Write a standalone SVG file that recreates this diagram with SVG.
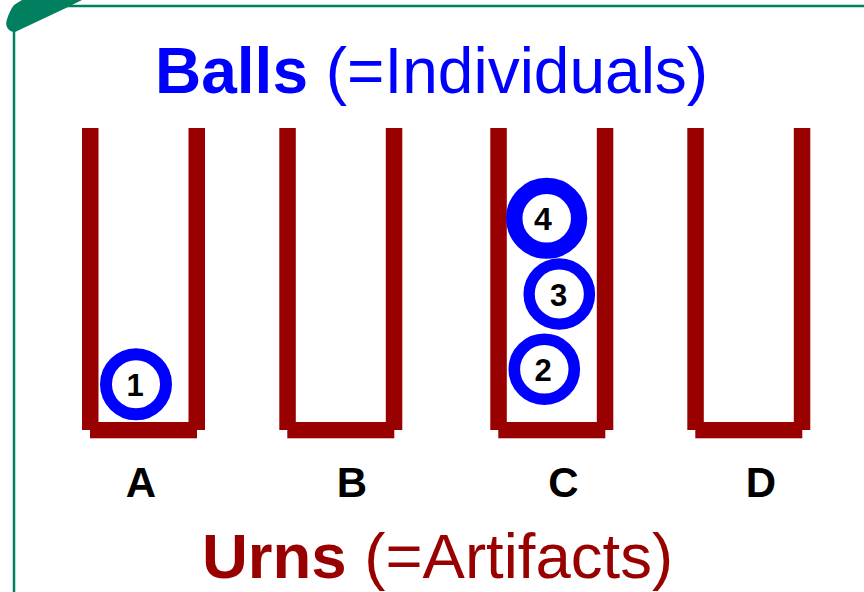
<svg xmlns="http://www.w3.org/2000/svg" xmlns:xlink="http://www.w3.org/1999/xlink" width="864" height="592" viewBox="0 0 864 592">
  <style>
    .title { font-family: "Liberation Sans", Arial, sans-serif; }
    .b { font-weight: bold; }
    .blue { fill: #0000ff; }
    .red { fill: #990000; }
    .urnshape { fill: #990000; }
    .ring { fill: #ffffff; stroke: #0000ff; }
    .num { font-family: "Liberation Sans", Arial, sans-serif; font-weight: bold; fill: #000000; text-anchor: middle; }
    .lbl { font-family: "Liberation Sans", Arial, sans-serif; font-weight: bold; font-size: 42px; fill: #000000; text-anchor: middle; }
    .frame { fill: none; stroke: #00805f; stroke-width: 2.5; }
  </style>
  <defs>
    <g id="urn">
      <rect x="0" y="0" width="16.5" height="302" />
      <rect x="106.5" y="0" width="16.5" height="302" />
      <rect x="8" y="294" width="107" height="16.3" />
    </g>
  </defs>
  <rect width="864" height="592" fill="#ffffff" />

  <g id="frame">
    <line class="frame" x1="14" y1="28" x2="14" y2="592" />
    <line class="frame" x1="62" y1="6" x2="864" y2="6" />
    <path d="M 15,32 C 9,32 5,27 6.5,21 C 8,15 11,9 14,5 L 22,0 L 82,0 L 66,8 Z" fill="#00805f" />
  </g>

  <g id="title-balls">
    <text class="title blue" x="155" y="93" font-size="64"><tspan class="b">Balls</tspan> (=Individuals)</text>
  </g>

  <g id="urn-A" class="urnshape"><use xlink:href="#urn" href="#urn" x="82" y="128" /></g>
  <g id="urn-B" class="urnshape"><use xlink:href="#urn" href="#urn" x="279.3" y="128" /></g>
  <g id="urn-C" class="urnshape"><use xlink:href="#urn" href="#urn" x="490.3" y="128" /></g>
  <g id="urn-D" class="urnshape"><use xlink:href="#urn" href="#urn" x="687.3" y="128" /></g>

  <g id="ball-1">
    <circle class="ring" cx="136" cy="384.3" r="30" stroke-width="12" />
    <text class="num" x="135" y="396" font-size="31">1</text>
  </g>
  <g id="ball-2">
    <circle class="ring" cx="544.3" cy="369.3" r="30" stroke-width="11.6" />
    <text class="num" x="543" y="381" font-size="31">2</text>
  </g>
  <g id="ball-3">
    <circle class="ring" cx="559.3" cy="294" r="30.2" stroke-width="11.3" />
    <text class="num" x="558.5" y="305.5" font-size="31">3</text>
  </g>
  <g id="ball-4">
    <circle class="ring" cx="546.7" cy="218.3" r="32.4" stroke-width="16.3" />
    <text class="num" x="543" y="230" font-size="32">4</text>
  </g>

  <g id="labels">
    <text class="lbl" x="141" y="497">A</text>
    <text class="lbl" x="352" y="497">B</text>
    <text class="lbl" x="563.5" y="497">C</text>
    <text class="lbl" x="761" y="497">D</text>
  </g>

  <g id="title-urns">
    <text class="title red" x="202" y="578" font-size="63.5"><tspan class="b">Urns</tspan> (=Artifacts)</text>
  </g>
</svg>
